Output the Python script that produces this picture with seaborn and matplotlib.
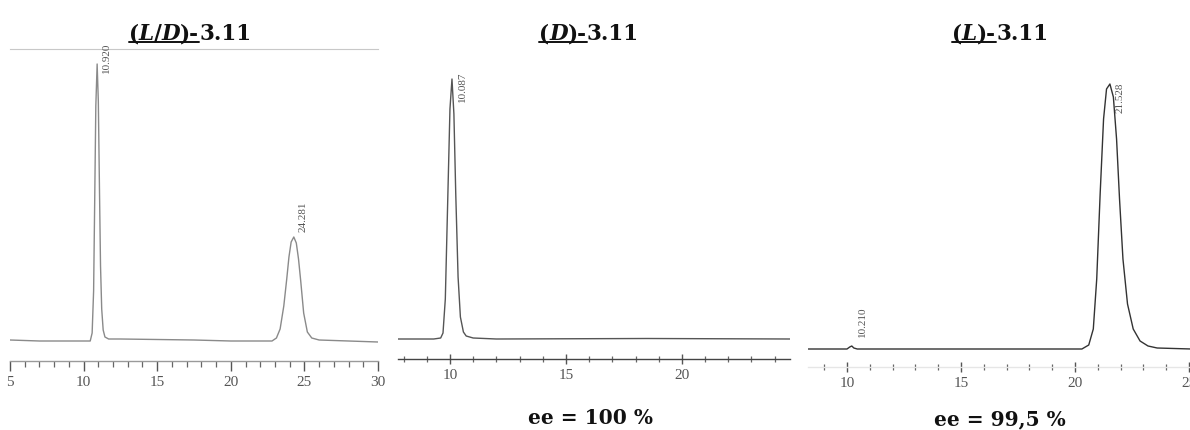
import numpy as np
import pandas as pd
import matplotlib
matplotlib.use("Agg")
import matplotlib.pyplot as plt
from matplotlib.lines import Line2D
from matplotlib.ticker import MultipleLocator
import seaborn as sns

# ---------------- data ----------------
# (L/D)-3.11 racemate trace: retention time (min) / detector signal (a.u.)
ld_time = [5.0, 7.0, 8.5, 10.45, 10.58, 10.68, 10.75, 10.83, 10.92, 11.0, 11.08, 11.15, 11.23, 11.33, 11.45,
           11.7, 12.5, 15.0, 17.5, 20.0, 22.8, 23.1, 23.35, 23.6, 23.8, 23.95, 24.1, 24.28, 24.45, 24.6,
           24.75, 24.95, 25.2, 25.5, 26.0, 28.0, 30.0]
ld_signal = [1.0, 0.0, 0.0, 0.0, 8.0, 50.0, 135.0, 235.0, 277.0, 240.0, 150.0, 75.0, 32.0, 11.0, 4.0,
             2.0, 2.0, 1.5, 1.0, 0.0, 0.0, 3.0, 12.0, 35.0, 62.0, 84.0, 99.0, 104.0, 98.0, 82.0,
             60.0, 28.0, 9.0, 3.0, 1.0, 0.0, -1.0]
ld_peak_rt = [10.920, 24.281]
ld_peak_h = [277.0, 104.0]
ld_peak_labels = ["10.920", "24.281"]

# (D)-3.11 trace
d_time = [7.7, 9.3, 9.6, 9.7, 9.8, 9.9, 10.0, 10.087, 10.17, 10.25, 10.35, 10.45, 10.58, 10.7,
          11.0, 12.0, 18.5, 24.7]
d_signal = [0.0, 0.0, 1.0, 6.0, 40.0, 135.0, 230.0, 260.0, 225.0, 145.0, 62.0, 22.0, 7.0, 3.0,
            1.0, 0.0, 0.5, 0.0]
d_peak_rt = [10.087]
d_peak_h = [260.0]
d_peak_labels = ["10.087"]

# (L)-3.11 trace
l_time = [8.3, 10.0, 10.12, 10.21, 10.3, 10.45, 15.0, 20.3, 20.6, 20.8, 20.95, 21.1, 21.25, 21.38,
          21.528, 21.68, 21.82, 21.95, 22.1, 22.3, 22.55, 22.85, 23.2, 23.6, 25.1]
l_signal = [0.0, 0.0, 2.0, 3.0, 1.0, 0.0, 0.0, 0.0, 4.0, 20.0, 70.0, 155.0, 230.0, 260.0,
            265.0, 252.0, 210.0, 150.0, 90.0, 45.0, 20.0, 8.0, 3.0, 1.0, 0.0]
l_peak_rt = [10.210, 21.528]
l_peak_h = [3.0, 265.0]
l_peak_labels = ["10.210", "21.528"]

titles = [
    [("(", False, True), ("L", True, True), ("/", False, True), ("D", True, True), (")-", False, True), ("3.11", False, False)],
    [("(", False, True), ("D", True, True), (")-", False, True), ("3.11", False, False)],
    [("(", False, True), ("L", True, True), (")-", False, True), ("3.11", False, False)],
]
ee_texts = [None, "ee = 100 %", "ee = 99,5 %"]

# ---------------- figure ----------------
sns.set_style("white")
W, H = 1190, 431
fig = plt.figure(figsize=(W / 100, H / 100), dpi=100)

def px_axes(x0, x1, ytop, ybot):
    return fig.add_axes([x0 / W, 1 - ybot / H, (x1 - x0) / W, (ybot - ytop) / H])

panels = [
    dict(ax=px_axes(10, 378, 50, 362), xlim=(5.0, 30.0), ylim=(-20, 292),
         t=ld_time, s=ld_signal, rt=ld_peak_rt, h=ld_peak_h, lab=ld_peak_labels,
         offs=[(9, -7), (9, -21)], color="#8a8a8a", spine="#9a9a9a", tickdir="out", top=True),
    dict(ax=px_axes(398, 790, 50, 360), xlim=(7.76, 24.66), ylim=(-20, 290),
         t=d_time, s=d_signal, rt=d_peak_rt, h=d_peak_h, lab=d_peak_labels,
         offs=[(11, 7)], color="#555555", spine="#444444", tickdir="inout", top=False),
    dict(ax=px_axes(808, 1190, 50, 368), xlim=(8.29, 25.04), ylim=(-18, 300),
         t=l_time, s=l_signal, rt=l_peak_rt, h=l_peak_h, lab=l_peak_labels,
         offs=[(11, -25), (10, 13)], color="#333333", spine="#e6e6e6", tickdir="inout", top=False),
]

for p in panels:
    ax = p["ax"]
    df = pd.DataFrame({"time": p["t"], "signal": p["s"]})
    sns.lineplot(data=df, x="time", y="signal", ax=ax, color=p["color"], linewidth=1.0,
                 estimator=None, sort=False)
    ax.set_xlim(*p["xlim"])
    ax.set_ylim(*p["ylim"])
    ax.set_xlabel("")
    ax.set_ylabel("")
    ax.set_yticks([])
    ax.xaxis.set_major_locator(MultipleLocator(5))
    ax.xaxis.set_minor_locator(MultipleLocator(1))
    ax.tick_params(axis="x", which="major", direction=p["tickdir"], length=7, width=1.0,
                   color="#555555", labelsize=11, labelcolor="#555555", pad=3, bottom=True)
    ax.tick_params(axis="x", which="minor", direction=p["tickdir"], length=4, width=0.9,
                   color="#666666", bottom=True)
    for lbl in ax.get_xticklabels():
        lbl.set_family("Liberation Serif")
    for side in ["left", "right"]:
        ax.spines[side].set_visible(False)
    ax.spines["top"].set_visible(p["top"])
    ax.spines["top"].set_color("#c8c8c8")
    ax.spines["bottom"].set_color(p["spine"])
    ax.spines["bottom"].set_linewidth(1.0)
    ax.set_facecolor("none")
    for rt, h, lab, (dx, dy) in zip(p["rt"], p["h"], p["lab"], p["offs"]):
        ax.annotate(lab, xy=(rt, h), xytext=(dx * 0.72, -dy * 0.72), textcoords="offset points",
                    rotation=90, ha="center", va="center", fontsize=8,
                    family="Liberation Serif", color="#555555")

# ---------------- titles with underline ----------------
renderer = fig.canvas.get_renderer()

def rich_title(parts, cx_px, base_px, size=15.5):
    texts = []
    for s, ital, ul in parts:
        t = fig.text(0, 1 - base_px / H, s, fontsize=size, fontweight="bold",
                     fontstyle="italic" if ital else "normal", family="DejaVu Serif",
                     va="baseline", ha="left", color="#111111")
        texts.append((t, ul))
    widths = [t.get_window_extent(renderer).width for t, _ in texts]
    total = sum(widths)
    x = cx_px - total / 2
    ul_start, ul_end = None, None
    for (t, ul), w in zip(texts, widths):
        t.set_x(x / W)
        if ul:
            if ul_start is None:
                ul_start = x
            ul_end = x + w
        x += w
    if ul_start is not None:
        yy = 1 - (base_px + 3) / H
        fig.add_artist(Line2D([ul_start / W, ul_end / W], [yy, yy], color="#111111",
                              linewidth=1.4, transform=fig.transFigure))

rich_title(titles[0], 190, 40)
rich_title(titles[1], 589, 40)
rich_title(titles[2], 1000, 40)

fig.text(590 / W, 1 - 418 / H, ee_texts[1], fontsize=14.5, fontweight="bold",
         family="DejaVu Serif", ha="center", va="center", color="#111111")
fig.text(1000 / W, 1 - 419 / H, ee_texts[2], fontsize=14.5, fontweight="bold",
         family="DejaVu Serif", ha="center", va="center", color="#111111")

fig.savefig("out.png", dpi=100)
